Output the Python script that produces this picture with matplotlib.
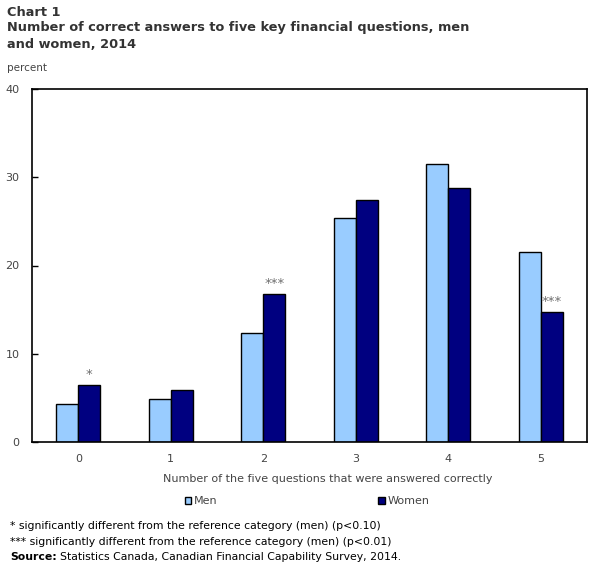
import matplotlib
matplotlib.use("Agg")
import matplotlib.pyplot as plt
import numpy as np

matplotlib.rc('font', family='DejaVu Sans', size=8)

categories = ['0', '1', '2', '3', '4', '5']
men = (4.3, 4.9, 12.3, 25.4, 31.5, 21.5)
women = (6.45, 5.9, 16.75, 27.4, 28.75, 14.7)
# significance markers on the women bars
stars = ('*', '', '***', '', '', '***')

grey = '#444444'
x = np.arange(len(categories))  # the x locations for the groups
width = 0.24  # the width of the bars

fig = plt.figure(figsize=(6.06, 5.68), dpi=100)
ax = fig.add_axes([32 / 606, 1 - 442 / 568, 555 / 606, 353 / 568])

ax.bar(x - width / 2, men, width, color='#99CCFF', edgecolor='black', linewidth=1, label='Men')
bars_w = ax.bar(x + width / 2, women, width, color='#000080', edgecolor='black', linewidth=1, label='Women')

for rect, s in zip(bars_w, stars):
    if s:
        ax.annotate(s, xy=(rect.get_x() + rect.get_width() / 2, rect.get_height()),
                    xytext=(0, 3), textcoords='offset points',
                    ha='center', va='bottom', color='#6e6e6e', fontsize=9.5)

ax.set_xlim(-0.5, 5.5)
ax.set_ylim(0, 40)
ax.set_yticks([0, 10, 20, 30, 40])
ax.set_xticks(x)
ax.set_xticklabels(categories)
ax.tick_params(axis='y', direction='in', length=4, width=1, pad=9, labelcolor=grey)
ax.tick_params(axis='x', length=0, pad=9, labelcolor=grey)
for sp in ax.spines.values():
    sp.set_linewidth(1.2)

fig.text(328 / 606, 1 - 479 / 568, 'Number of the five questions that were answered correctly',
         ha='center', va='center', color=grey, fontsize=8)

ax.legend(loc='center', bbox_to_anchor=(307 / 606, 1 - 501 / 568), bbox_transform=fig.transFigure,
          ncol=2, frameon=False, handlelength=0.6, handleheight=0.6, handletextpad=0.2,
          columnspacing=14.5, labelcolor=grey, fontsize=8)

# titles and notes
title_kw = dict(fontsize=9.3, fontweight='bold', color='#333333', va='center')
fig.text(7 / 606, 1 - 12 / 568, 'Chart 1', **title_kw)
fig.text(7 / 606, 1 - 28 / 568, 'Number of correct answers to five key financial questions, men', **title_kw)
fig.text(7 / 606, 1 - 45 / 568, 'and women, 2014', **title_kw)
fig.text(7 / 606, 1 - 68 / 568, 'percent', fontsize=7.5, color=grey, va='center')

fig.text(10 / 606, 1 - 526 / 568, '* significantly different from the reference category (men) (p<0.10)',
         fontsize=7.8, color='black', va='center')
fig.text(10 / 606, 1 - 542 / 568, '*** significantly different from the reference category (men) (p<0.01)',
         fontsize=7.8, color='black', va='center')
t = fig.text(10 / 606, 1 - 557 / 568, 'Source:', fontsize=7.8, fontweight='bold', color='black', va='center')
fig.canvas.draw()
bb = t.get_window_extent()
fig.text(bb.x1 / 606 + 3 / 606, 1 - 557 / 568, 'Statistics Canada, Canadian Financial Capability Survey, 2014.',
         fontsize=7.8, color='black', va='center')

fig.savefig('out.png', dpi=100)
